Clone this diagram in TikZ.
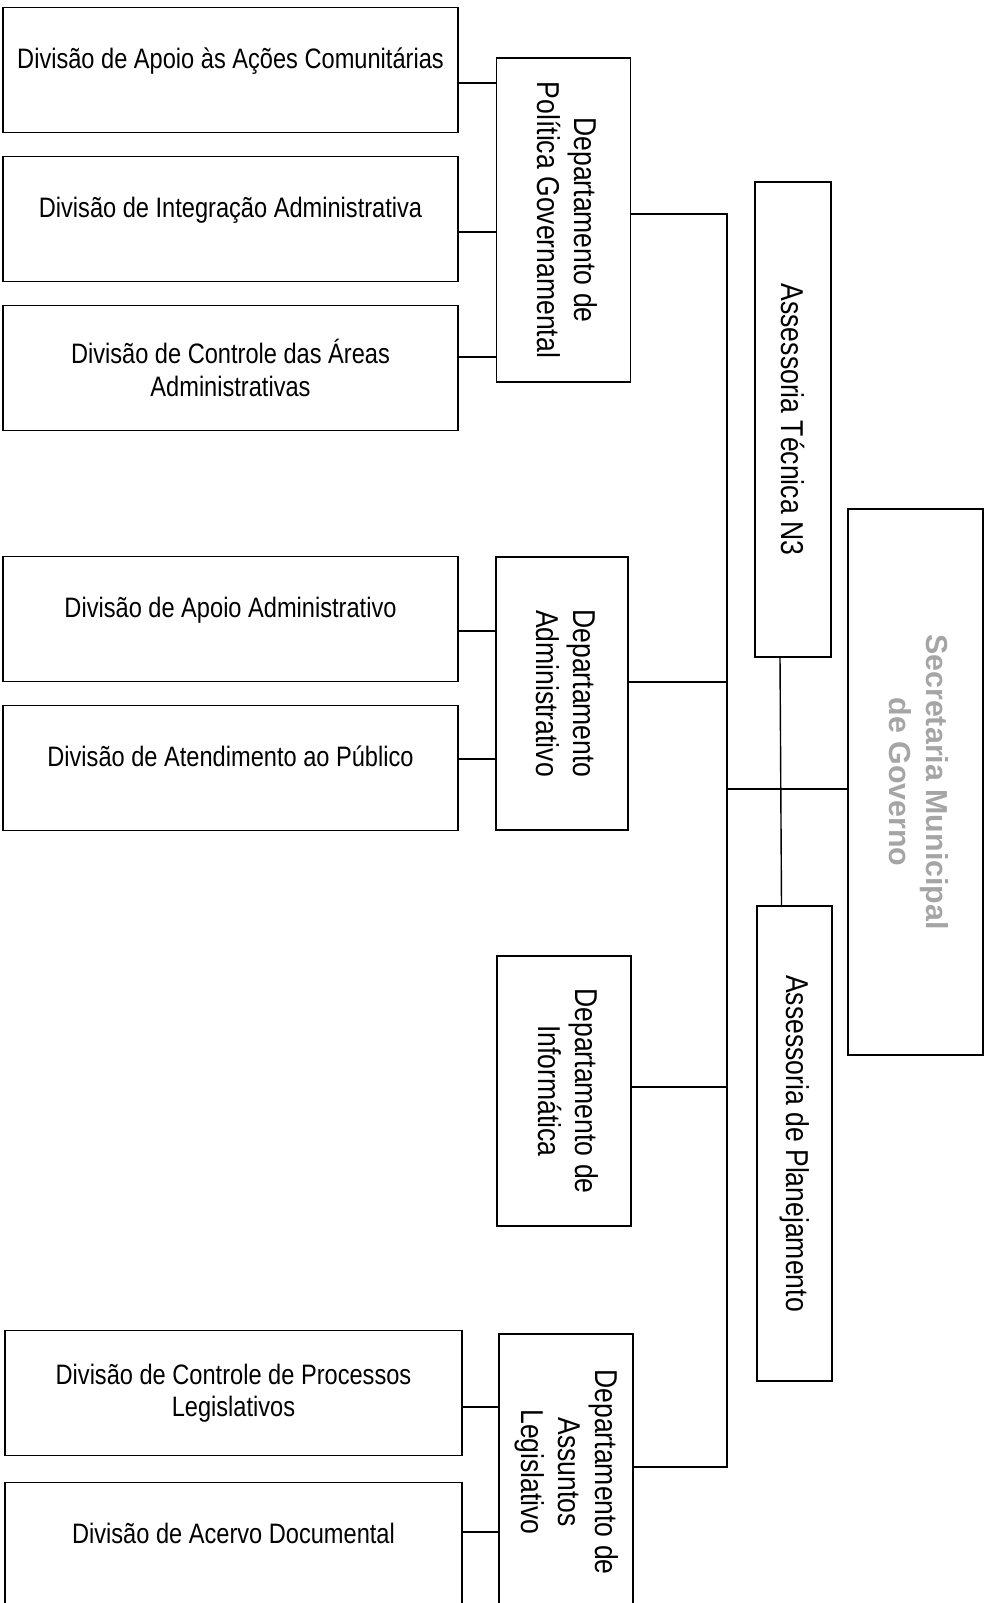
\documentclass[tikz,border=0pt]{standalone}
\usepackage{fontspec}
\usepackage{graphicx}
\setmainfont{Liberation Sans}[FakeStretch=0.84]
\newfontfamily\secfont{Liberation Sans}
\definecolor{secgray}{RGB}{165,165,165}
\newcommand{\vtext}[1]{\rotatebox{-90}{\begin{tabular}{@{}c@{}}#1\end{tabular}}}
\tikzset{
  divbox/.style={draw, thick, minimum width=9.1cm, minimum height=2.5cm, align=center, inner sep=0pt, font=\fontsize{16}{18.5}\selectfont},
  lifted/.style={text height=12pt, text depth=14pt},
  deptbox/.style={draw, thick, minimum width=2.68cm, inner sep=0pt, font=\fontsize{18}{21}\selectfont}
}
\begin{document}
\begin{tikzpicture}[x=0.02cm, y=-0.02cm]
      \useasboundingbox (0,0) rectangle (988,1603);
      % divisoes
      \node[divbox, lifted] (D1) at (230.5,70) {Divisão de Apoio às Ações Comunitárias};
      \node[divbox, lifted] (D2) at (230.5,219) {Divisão de Integração Administrativa};
      \node[divbox] (D3) at (230.5,368) {Divisão de Controle das Áreas\\Administrativas};
      \node[divbox, lifted] (D4) at (230.5,619) {Divisão de Apoio Administrativo};
      \node[divbox, lifted] (D5) at (230.5,768) {Divisão de Atendimento ao Público};
      \node[divbox, minimum width=9.14cm] (D6) at (233.5,1393) {Divisão de Controle de Processos\\Legislativos};
      \node[divbox, lifted, minimum width=9.14cm] (D7) at (233.5,1545) {Divisão de Acervo Documental};
      % departamentos
      \node[deptbox, minimum height=6.48cm] (Dep1) at (563.5,220) {\vtext{Departamento de\\Política Governamental}};
      \node[deptbox, minimum height=5.46cm, minimum width=2.64cm] (Dep2) at (562,693.5) {\vtext{Departamento\\Administrativo}};
      \node[deptbox, minimum height=5.4cm] (Dep3) at (564,1091) {\vtext{Departamento de\\Informática}};
      \node[deptbox, minimum height=5.52cm] (Dep4) at (566,1472) {\vtext{Departamento de\\Assuntos\\Legislativo}};
      % assessorias e secretaria
      \node[deptbox, minimum width=1.52cm, minimum height=9.5cm] (AT) at (793,419.5) {\rotatebox{-90}{Assessoria Técnica N3}};
      \node[deptbox, minimum width=1.5cm, minimum height=9.5cm] (AP) at (794.5,1143.5) {\rotatebox{-90}{Assessoria de Planejamento}};
      \node[draw, thick, minimum width=2.7cm, minimum height=10.92cm, inner sep=0pt, text=secgray,
            font=\secfont\bfseries\fontsize{17.3}{21}\selectfont] (Sec) at (915.5,782) {\vtext{Secretaria Municipal\\de Governo}};
      \coordinate (bus) at (727,0);
      \begin{scope}[thick]
        \draw ([yshift=-0.26cm]D1.east) -- ([yshift=-0.26cm]D1.east -| Dep1.west);
        \draw ([yshift=-0.26cm]D2.east) -- ([yshift=-0.26cm]D2.east -| Dep1.west);
        \draw ([yshift=0.22cm]D3.east) -- ([yshift=0.22cm]D3.east -| Dep1.west);
        \draw ([yshift=-0.24cm]D4.east) -- ([yshift=-0.24cm]D4.east -| Dep2.west);
        \draw ([yshift=0.18cm]D5.east) -- ([yshift=0.18cm]D5.east -| Dep2.west);
        \draw ([yshift=-0.28cm]D6.east) -- ([yshift=-0.28cm]D6.east -| Dep4.west);
        \draw ([yshift=0.26cm]D7.east) -- ([yshift=0.26cm]D7.east -| Dep4.west);
        \draw ([yshift=0.12cm]Dep1.east) -- ([yshift=0.12cm]Dep1.east -| bus) -- ([yshift=0.1cm]Dep4.east -| bus) -- ([yshift=0.1cm]Dep4.east);
        \draw ([yshift=0.23cm]Dep2.east) -- ([yshift=0.23cm]Dep2.east -| bus);
        \draw ([yshift=0.08cm]Dep3.east) -- ([yshift=0.08cm]Dep3.east -| bus);
        \draw ([yshift=-0.14cm]Sec.west) -- ([yshift=-0.14cm]Sec.west -| bus);
        \draw ([xshift=-0.26cm]AT.south) -- ([xshift=-0.26cm]AP.north);
      \end{scope}
\end{tikzpicture}
\end{document}
